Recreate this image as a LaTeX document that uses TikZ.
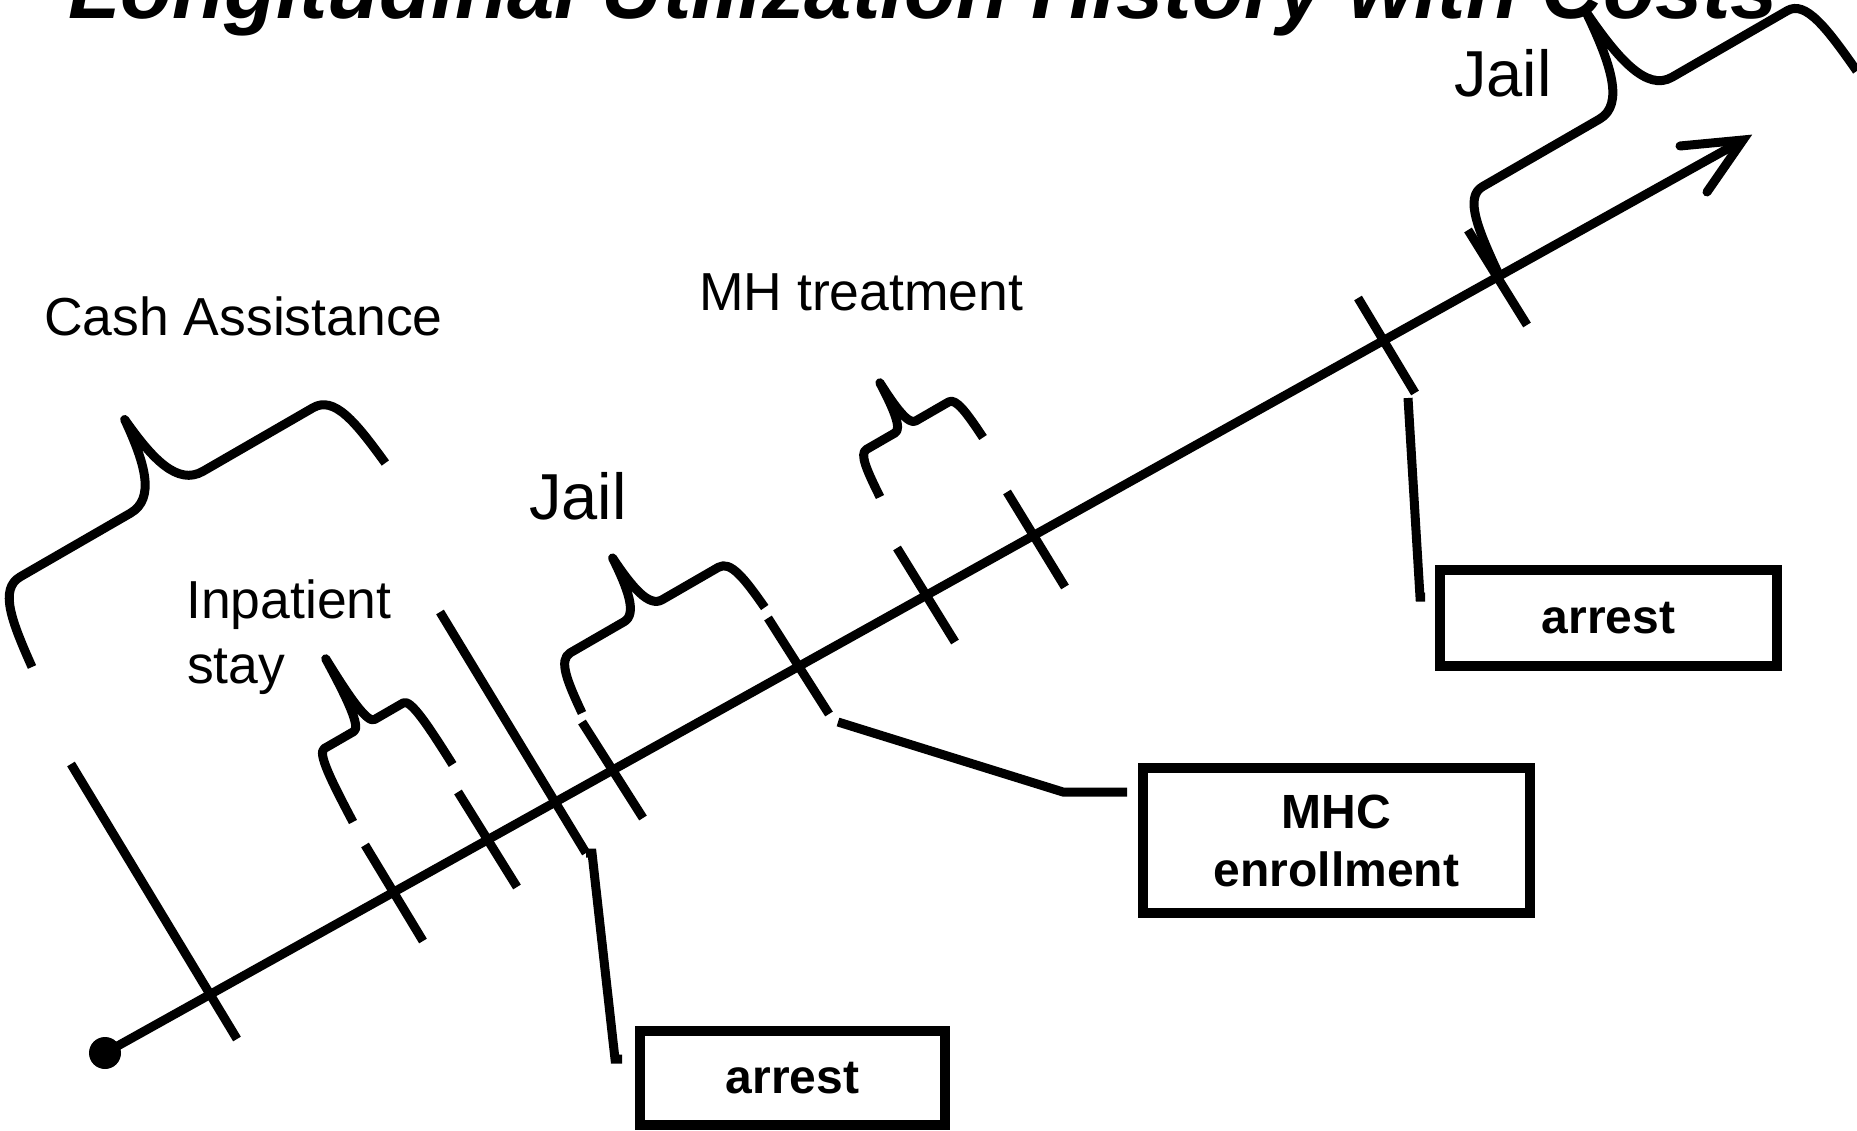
\documentclass[tikz,border=0pt]{standalone}
\usepackage{fontspec}
\setmainfont{Liberation Sans}
\tikzset{
  ln/.style={line width=9pt},
  brc/.style={line width=9pt, line join=round},
  box/.style={draw, line width=10pt, inner sep=0pt, align=center,
    font=\bfseries\fontsize{48}{58}\selectfont},
  lbl/.style={anchor=base west, inner sep=0pt, font=\fontsize{53.5}{65}\selectfont},
  lblbig/.style={anchor=base west, inner sep=0pt, font=\fontsize{65}{72}\selectfont}
}
% #1,#2 left end; #3 width; #4 arm height; #5 tip u; #6 tip v; #7 cusp half width; #8 corner
\newcommand\drawbrace[8]{%
  \begin{scope}[shift={(#1,#2)}, rotate=30, y=1pt]
    \draw[brc] (0,0) .. controls ({0.15*#8},{0.6*#4}) and ({0.3*#8},#4) .. (#8,#4)
      -- ({#5-#7},#4) .. controls ({#5-0.3*#7},#4) and ({#5-0.1*#7},{#4+0.43*(#6-#4)}) .. (#5,#6)
      .. controls ({#5+0.1*#7},{#4+0.43*(#6-#4)}) and ({#5+0.3*#7},#4) .. ({#5+#7},#4)
      -- ({#3-#8},#4) .. controls ({#3-0.3*#8},#4) and ({#3-0.15*#8},{0.6*#4}) .. (#3,0);
  \end{scope}}
\begin{document}
\begin{tikzpicture}[x=1pt, y=-1pt]
\clip (0,0) rectangle (1857,1131);
\fill[white] (0,0) rectangle (1857,1131);

% title (cut off at top, as in the reference)
\node[anchor=base, inner sep=0pt, font=\bfseries\itshape\fontsize{85}{95}\selectfont] (title) at (923,19)
  {Longitudinal Utilization History with Costs};

% axis
\coordinate (start) at (105,1053);
\coordinate (tip) at (1743,140);
\fill (start) circle (16);
\draw[ln] (start) -- (1737,143.5);
\draw[ln, line cap=round, line join=miter] (1680,146) -- (tip) -- (1707,192);

% ticks
\draw[ln] (71,764) -- (237,1039);
\draw[ln] (365,845) -- (423,941);
\draw[ln] (458,792) -- (517,887);
\coordinate (dEnd) at (586,853);
\draw[ln] (440,612) -- (dEnd);
\draw[ln] (582,722) -- (643,818);
\coordinate (fEnd) at (838,722);
\draw[ln] (768,618) -- (829,714);
\draw[ln] (897,548) -- (955,642);
\draw[ln] (1007,492) -- (1065,587);
\coordinate (iEnd) at (1408,398);
\draw[ln] (1358,298) -- (1415,393);
\draw[ln] (1468,230) -- (1527,325);

% braces
\drawbrace{32}{667}{408}{84}{204}{168}{42}{35}
\drawbrace{353}{822}{115}{78}{58}{155}{12}{12}
\drawbrace{582}{713}{211}{58}{104}{119}{22}{20}
\drawbrace{880}{497}{119}{48}{57}{99}{12}{12}
\drawbrace{1500}{277}{412}{87}{207}{187}{42}{30}

% labels
\node[lbl] (cash) at (44,336) {Cash Assistance};
\node[lbl] (mh) at (699,311) {MH treatment};
\node[lbl] (inp1) at (186,618) {Inpatient};
\node[lbl] (inp2) at (187,683) {stay};
\node[lblbig] (jail1) at (529,519) {Jail};
\node[lblbig] (jail2) at (1454,97) {Jail};

% boxes
\node[box, minimum width=305pt, minimum height=94pt] (arrest1) at (792.5,1078) {arrest};
\node[box, minimum width=387pt, minimum height=145pt] (mhc) at (1336.5,840.5) {MHC\\enrollment};
\node[box, minimum width=337pt, minimum height=96pt] (arrest2) at (1608.5,618) {arrest};

% connectors
\coordinate (a1in) at (622,1059);
\coordinate (mhcin) at (1127,792);
\coordinate (a2in) at (1425,597);
\draw[ln] (dEnd) -- (592,853) -- (615,1059) -- (a1in);
\draw[ln] (fEnd) -- (1063,792) -- (mhcin);
\draw[ln] (iEnd) -- (1420,597) -- (a2in);
\end{tikzpicture}
\end{document}
